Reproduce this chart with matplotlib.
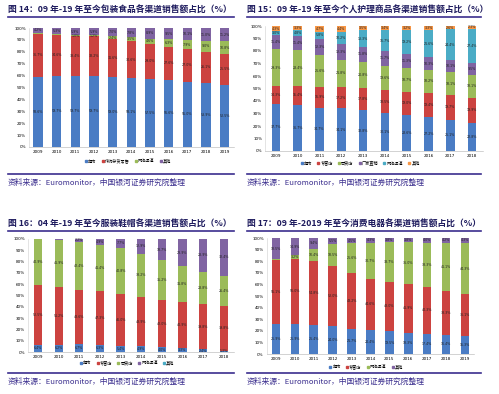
import numpy as np
import matplotlib
matplotlib.use("Agg")
import matplotlib.pyplot as plt
from matplotlib.lines import Line2D

plt.rcParams['font.family'] = ['Noto Sans CJK SC', 'DejaVu Sans']

# 图14 包装食品
years_14 = ['2009', '2010', '2011', '2012', '2013', '2014', '2015', '2016', '2017', '2018', '2019']
labels_14 = ['超市', '传统杂货零售', '网络渠道', '其他']
chaoshi_14 = [58.6, 59.7, 59.7, 59.7, 59.0, 58.1, 57.5, 56.6, 55.0, 53.9, 52.5]
zahuo_14 = [36.7, 34.6, 33.4, 33.2, 31.6, 30.6, 29.0, 27.6, 27.0, 26.1, 25.5]
wangluo_14 = [0.5, 0.4, 1.0, 1.2, 2.4, 3.5, 4.6, 6.3, 7.9, 9.0, 10.8]
qita_14 = [4.2, 5.3, 5.9, 5.9, 7.0, 7.8, 8.9, 9.5, 10.1, 11.0, 11.2]

# 图15 个人护理
years_15 = ['2009', '2010', '2011', '2012', '2013', '2014', '2015', '2016', '2017', '2018']
labels_15 = ['超市', '专营店', '百货店', '厂家直销', '网络渠道', '其他']
chaoshi_15 = [37.7, 36.7, 34.7, 34.1, 32.8, 30.1, 28.6, 27.2, 25.1, 22.8]
zhuanying_15 = [14.3, 15.4, 16.9, 17.2, 17.8, 18.5, 19.0, 19.4, 19.7, 19.9]
baihuo_15 = [29.3, 28.4, 25.6, 21.8, 20.8, 19.6, 18.7, 18.2, 18.1, 18.1]
changjia_15 = [11.4, 11.4, 12.3, 12.3, 11.8, 11.7, 11.3, 10.3, 10.1, 9.5]
wangluo_15 = [3.0, 4.8, 5.8, 10.2, 13.3, 16.7, 19.2, 21.6, 24.4, 27.4]
qita_15 = [4.3, 3.3, 4.7, 4.4, 3.5, 3.4, 3.2, 3.3, 2.6, 2.3]

# 图16 服装鞋帽
years_16 = ['2009', '2010', '2011', '2012', '2013', '2014', '2015', '2016', '2017', '2018']
labels_16 = ['超市', '专营店', '百货店', '网络渠道', '其他']
chaoshi_16 = [6.4, 6.2, 6.7, 6.3, 5.4, 4.9, 4.0, 3.3, 2.4, 1.3]
zhuanying_16 = [52.5, 51.2, 48.6, 47.3, 46.0, 43.9, 42.0, 40.9, 39.8, 39.8]
baihuo_16 = [40.9, 41.9, 42.4, 41.4, 40.8, 38.2, 35.2, 31.8, 28.8, 26.4]
wangluo_16 = [0.1, 0.6, 2.2, 4.9, 7.7, 12.9, 18.7, 23.9, 28.9, 32.4]
qita_16 = [0.1, 0.1, 0.1, 0.1, 0.1, 0.1, 0.1, 0.1, 0.1, 0.1]

# 图17 消费电器
years_17 = ['2009', '2010', '2011', '2012', '2013', '2014', '2015', '2016', '2017', '2018', '2019']
labels_17 = ['超市', '专营店', '网络渠道', '其他']
chaoshi_17 = [25.9, 25.9, 25.4, 24.0, 21.7, 20.4, 19.5, 18.3, 17.4, 16.4, 15.3]
zhuanying_17 = [55.1, 56.0, 54.8, 52.0, 48.2, 44.6, 43.0, 41.9, 40.3, 38.3, 36.1]
wangluo_17 = [0.5, 3.2, 10.4, 18.5, 25.6, 30.7, 33.7, 36.0, 38.3, 41.1, 44.3]
qita_17 = [18.5, 14.9, 9.4, 5.5, 4.5, 4.3, 3.8, 3.8, 4.0, 4.2, 4.3]

BLUE = '#4A7CC4'
RED = '#CC4340'
GREEN = '#9BBB59'
PURPLE = '#8064A2'
CYAN = '#4BACC6'
ORANGE = '#F79646'
NAVY = '#1E1B5E'
LINE = '#3B2E8E'

W, H = 499, 394
fig = plt.figure(figsize=(W / 100, H / 100), dpi=100)


def px_axes(l, t, r, b):
    return fig.add_axes([l / W, 1 - b / H, (r - l) / W, (b - t) / H])


def stacked(ax, years, series, colors, width):
    x = np.arange(len(years))
    bottom = np.zeros(len(years))
    for vals, c in zip(series, colors):
        v = np.array(vals) / 100
        ax.bar(x, v, width, bottom=bottom, color=c, linewidth=0)
        for xi, bi, vi in zip(x, bottom, v):
            if vi >= 0.008:
                ax.text(xi, bi + vi / 2, f'{vi * 100:.1f}%', ha='center', va='center',
                        fontsize=2.3, color='#222222', family='DejaVu Sans')
        bottom += v
    ax.set_xlim(-0.5, len(years) - 0.5)
    ax.set_ylim(0, 1)
    ax.set_xticks(x)
    ax.set_xticklabels(years, fontsize=3, family='DejaVu Sans')
    ax.set_yticks(np.arange(0, 1.01, 0.1))
    ax.set_yticklabels([f'{int(round(t * 100))}%' for t in np.arange(0, 1.01, 0.1)],
                       fontsize=3, family='DejaVu Sans')
    ax.tick_params(length=0, pad=2)
    for s in ['top', 'right']:
        ax.spines[s].set_visible(False)
    ax.spines['left'].set_color('#D0D0D0')
    ax.spines['bottom'].set_color('#B0B0B0')
    ax.spines['left'].set_linewidth(0.4)
    ax.spines['bottom'].set_linewidth(0.4)


def add_legend(ax, labels, colors, cx, cy):
    handles = [Line2D([0], [0], marker='s', color='none', markerfacecolor=c,
                      markeredgecolor=c, markersize=2) for c in colors]
    ax.legend(handles, labels, loc='center', bbox_to_anchor=(cx / W, 1 - cy / H),
              bbox_transform=fig.transFigure, ncol=len(labels), frameon=False,
              fontsize=3, handlelength=0.6, handletextpad=0.2, columnspacing=1.2)


def frame(x0, x1, y_title, y_under, y_bot, y_src, title):
    fig.text(x0 / W, 1 - y_title / H, title, fontsize=6.3, fontweight='bold',
             color=NAVY, va='center', ha='left')
    fig.add_artist(Line2D([x0 / W, x1 / W], [1 - y_under / H] * 2, color=LINE, lw=1.2))
    fig.add_artist(Line2D([x0 / W, x1 / W], [1 - y_bot / H] * 2, color=LINE, lw=1.2))
    fig.text(x0 / W, 1 - y_src / H, '资料来源：Euromonitor，中国银河证券研究院整理',
             fontsize=5.6, style='italic', color=LINE, va='center', ha='left')


# 图14
frame(8, 234, 10, 17, 174, 183, '图 14：09 年-19 年至今包装食品各渠道销售额占比（%）')
ax1 = px_axes(28.6, 28, 234, 147)
stacked(ax1, years_14, [chaoshi_14, zahuo_14, wangluo_14, qita_14],
        [BLUE, RED, GREEN, PURPLE], 0.5)
add_legend(ax1, labels_14, [BLUE, RED, GREEN, PURPLE], 128, 161)

# 图15
frame(247, 481, 10, 17, 174, 183, '图 15：09 年-19 年至今个人护理商品各渠道销售额占比（%）')
ax2 = px_axes(265, 26, 483, 151)
stacked(ax2, years_15, [chaoshi_15, zhuanying_15, baihuo_15, changjia_15, wangluo_15, qita_15],
        [BLUE, RED, GREEN, PURPLE, CYAN, ORANGE], 0.4)
add_legend(ax2, labels_15, [BLUE, RED, GREEN, PURPLE, CYAN, ORANGE], 360, 163)

# 图16
frame(8, 234, 224, 231, 373, 382, '图 16：04 年-19 年至今服装鞋帽各渠道销售额占比（%）')
ax3 = px_axes(27.7, 239, 234, 352)
stacked(ax3, years_16, [chaoshi_16, zhuanying_16, baihuo_16, wangluo_16, qita_16],
        [BLUE, RED, GREEN, PURPLE, CYAN], 0.4)
add_legend(ax3, labels_16, [BLUE, RED, GREEN, PURPLE, CYAN], 127, 363)

# 图17
frame(247, 481, 224, 231, 373, 382, '图 17：09 年-2019 年至今消费电器各渠道销售额占比（%）')
ax4 = px_axes(266.5, 238, 474.4, 354)
stacked(ax4, years_17, [chaoshi_17, zhuanying_17, wangluo_17, qita_17],
        [BLUE, RED, GREEN, PURPLE], 0.45)
add_legend(ax4, labels_17, [BLUE, RED, GREEN, PURPLE], 366, 367)

fig.savefig('out.png', dpi=100)
